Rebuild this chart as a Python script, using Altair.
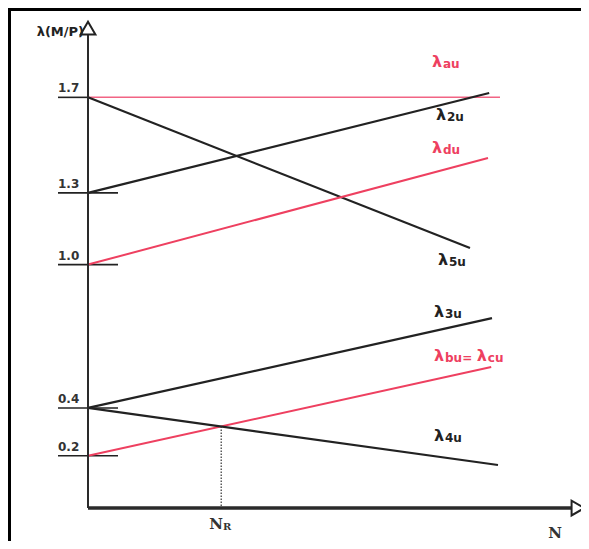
import altair as alt
import pandas as pd

# ---- data ----
# lines: name, start N, start lambda, end N, end lambda, colour group
line_names = ["au", "2u", "5u", "du", "3u", "bu", "4u"]
line_n0 = [0, 0, 0, 0, 0, 0, 0]
line_v0 = [1.7, 1.3, 1.7, 1.0, 0.4, 0.2, 0.4]
line_n1 = [10.3, 10.03, 9.55, 10.0, 10.1, 10.08, 10.25]
line_v1 = [1.7, 1.718, 1.069, 1.446, 0.776, 0.571, 0.161]
line_col = ["pink", "black", "black", "red", "black", "red", "black"]
line_w = [1.5, 2.2, 2.2, 2.0, 2.2, 2.0, 2.2]

# y tick levels with their labels
tick_vals = [1.7, 1.3, 1.0, 0.4, 0.2]
tick_text = ["1.7", "1.3", "1.0", "0.4", "0.2"]
tick_right = [0, 0.75, 0.75, 0.75, 0.75]

# curve labels: lambda glyph position + subscript
lab_n = [8.6, 8.7, 8.6, 8.75, 8.65, 8.65, 9.72, 8.65]
lab_v = [1.848, 1.626, 1.488, 1.019, 0.802, 0.617, 0.617, 0.282]
lab_sub = ["au", "2u", "du", "5u", "3u", "bu=", "cu", "4u"]
lab_col = ["red", "black", "red", "black", "black", "red", "red", "black"]

NR = 3.33
NR_v = 0.322
axis_v = -0.019
y_top = 1.969
x_end = 12.1

RED = "#ee4060"
PINK = "#f26484"
BLACK = "#222222"

xs = alt.Scale(domain=[-2, 12.325], nice=False, zero=False)
ys = alt.Scale(domain=[-0.157, 2.074], nice=False, zero=False)

lines_df = pd.DataFrame({"name": line_names, "n0": line_n0, "v0": line_v0,
                         "n1": line_n1, "v1": line_v1, "col": line_col, "w": line_w})
ticks_df = pd.DataFrame({"v": tick_vals, "t": tick_text, "r": tick_right,
                         "l": [-0.75] * len(tick_vals)})
labs_df = pd.DataFrame({"n": lab_n, "v": lab_v, "sub": lab_sub, "col": lab_col})

colscale = alt.Scale(domain=["red", "pink", "black"], range=[RED, PINK, BLACK])

X = lambda f: alt.X(f, type="quantitative", scale=xs, axis=None)
Y = lambda f: alt.Y(f, type="quantitative", scale=ys, axis=None)

# frame (top and left only)
frame_left = alt.Chart().mark_rule(color="black", strokeWidth=3).encode(
    x=alt.value(1.5), y=alt.value(0), y2=alt.value(533))
frame_top = alt.Chart().mark_rule(color="black", strokeWidth=3).encode(
    y=alt.value(1.5), x=alt.value(0), x2=alt.value(573))

# axes
axes_df = pd.DataFrame({"n0": [0, 0], "v0": [axis_v, axis_v],
                        "n1": [0, x_end], "v1": [y_top, axis_v],
                        "w": [2.0, 3.5]})
axes = alt.Chart(axes_df).mark_rule(color="#2a2a2a").encode(
    x=X("n0"), y=Y("v0"), x2="n1", y2="v1",
    strokeWidth=alt.StrokeWidth("w:Q", scale=None))

arrows_df = pd.DataFrame({"n": [0, 12.25], "v": [1.99, axis_v],
                          "shape": ["triangle-up", "triangle-right"]})
arrows = alt.Chart(arrows_df).mark_point(filled=True, fill="white", stroke="#222",
                                         strokeWidth=2, size=220, opacity=1).encode(
    x=X("n"), y=Y("v"), shape=alt.Shape("shape:N", scale=None))

# ticks
tick_rules = alt.Chart(ticks_df).mark_rule(color=BLACK, strokeWidth=1.6).encode(
    x=X("l"), x2="r", y=Y("v"), y2="v")
tick_labels = alt.Chart(ticks_df).mark_text(
    align="left", baseline="bottom", dy=-2, fontSize=12, fontWeight="bold",
    font="DejaVu Sans", color="#333").encode(x=X("l"), y=Y("v"), text="t")

# data lines
curves = alt.Chart(lines_df).mark_rule().encode(
    x=X("n0"), y=Y("v0"), x2="n1", y2="v1",
    color=alt.Color("col:N", scale=colscale, legend=None),
    strokeWidth=alt.StrokeWidth("w:Q", scale=None))

# NR dotted line
nr_df = pd.DataFrame({"n": [NR], "v0": [NR_v], "v1": [axis_v]})
nr_line = alt.Chart(nr_df).mark_rule(color="#333", strokeWidth=1.2,
                                     strokeDash=[1.5, 1.5]).encode(
    x=X("n"), y=Y("v0"), y2="v1")

# curve labels
lam = alt.Chart(labs_df).mark_text(
    align="left", baseline="middle", fontSize=16, fontWeight="bold",
    font="DejaVu Sans").encode(
    x=X("n"), y=Y("v"), text=alt.value("λ"),
    color=alt.Color("col:N", scale=colscale, legend=None))
subs = alt.Chart(labs_df).mark_text(
    align="left", baseline="middle", dx=11, dy=2, fontSize=12, fontWeight="bold",
    font="DejaVu Sans").encode(
    x=X("n"), y=Y("v"), text="sub:N",
    color=alt.Color("col:N", scale=colscale, legend=None))

# axis names
names_df = pd.DataFrame({"n": [11.675, 3.2], "v": [-0.125, -0.086],
                         "t": ["N", "N"], "s": ["", "R"]})
ax_names = alt.Chart(names_df).mark_text(
    fontSize=15, fontWeight="bold", font="DejaVu Serif", color="#333",
    baseline="middle", align="center").encode(x=X("n"), y=Y("v"), text="t")
ax_sub = alt.Chart(names_df).mark_text(
    fontSize=10, fontWeight="bold", font="DejaVu Serif", color="#333",
    baseline="middle", align="left", dx=7, dy=3).encode(x=X("n"), y=Y("v"), text="s")

ylab_df = pd.DataFrame({"n": [-0.1], "v": [1.975]})
ylab = alt.Chart(ylab_df).mark_text(
    align="right", baseline="middle", fontSize=13, fontWeight="bold",
    font="DejaVu Sans", color="#222").encode(
    x=X("n"), y=Y("v"), text=alt.value("λ(M/P)"))

chart = alt.layer(
    frame_left, frame_top, tick_rules, curves, nr_line, axes, arrows,
    tick_labels, lam, subs, ax_names, ax_sub, ylab
).properties(
    width=573, height=533, padding=0, autosize=alt.AutoSizeParams(type="none")
).configure_view(stroke=None)

chart.save("out.html", embed_options={"renderer": "svg", "actions": False})
